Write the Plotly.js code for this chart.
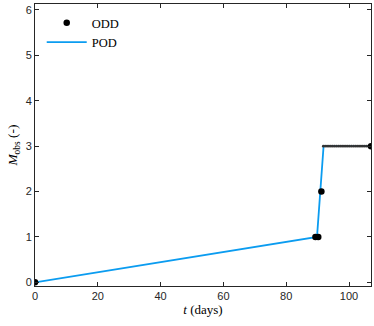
<!DOCTYPE html>
<html>
<head>
<meta charset="utf-8">
<script src="https://cdn.plot.ly/plotly-3.0.1.min.js"></script>
<style>
  html, body { margin: 0; padding: 0; background: #fff; }
  #chart { width: 374px; height: 326px; }
</style>
</head>
<body>
<div id="chart"></div>
<script>
// observed (ODD) points: key jumps
const oddDays = [0, 89.3, 90.2, 91.2, 107];
const oddVals = [0, 1, 1, 2, 3];

// dense ODD samples along the plateau (small markers)
const plateauDays = [91.8, 92.4, 93.0, 93.6, 94.2, 94.8, 95.4, 96.0, 96.6, 97.2, 97.8, 98.4, 99.0, 99.6,
  100.2, 100.8, 101.4, 102.0, 102.6, 103.2, 103.8, 104.4, 105.0, 105.6, 106.2, 106.8];
const plateauVals = [3, 3, 3, 3, 3, 3, 3, 3, 3, 3, 3, 3, 3, 3,
  3, 3, 3, 3, 3, 3, 3, 3, 3, 3, 3, 3];

// POD curve
const podDays = [0, 89.8, 91.9, 107];
const podVals = [0, 1, 3, 3];

const axisColor = '#262626';
const tickFont = { family: 'Liberation Sans, Arial, sans-serif', size: 11, color: axisColor };
const serif = 'Liberation Serif, DejaVu Serif, serif';

const traces = [
  { x: podDays, y: podVals, mode: 'lines', name: 'POD', legendrank: 2,
    line: { color: '#0b9cf0', width: 1.8 } },
  { x: plateauDays, y: plateauVals, mode: 'markers', name: 'ODD plateau', showlegend: false,
    marker: { color: '#333', size: 2.6, symbol: 'circle' } },
  { x: oddDays, y: oddVals, mode: 'markers', name: 'ODD', legendrank: 1,
    marker: { color: '#000', size: 6.5 } }
];

const layout = {
  width: 374, height: 326,
  margin: { l: 35, r: 3, t: 4, b: 40 },
  paper_bgcolor: '#fff', plot_bgcolor: '#fff',
  showlegend: true,
  legend: { x: 0.02, y: 0.985, xanchor: 'left', yanchor: 'top', bgcolor: 'rgba(0,0,0,0)',
    font: { family: serif, size: 12.5, color: '#000' }, tracegroupgap: 0, itemwidth: 40 },
  xaxis: {
    range: [0, 107], tickvals: [0, 20, 40, 60, 80, 100],
    ticks: 'inside', ticklen: 4, tickcolor: axisColor, mirror: 'ticks',
    showline: true, linecolor: axisColor, linewidth: 1, showgrid: false, zeroline: false,
    tickfont: tickFont,
    title: { text: '<i>t</i> (days)', font: { family: serif, size: 13, color: '#000' }, standoff: 2 }
  },
  yaxis: {
    range: [-0.08, 6.13], tickvals: [0, 1, 2, 3, 4, 5, 6],
    ticks: 'inside', ticklen: 4, tickcolor: axisColor, mirror: 'ticks',
    showline: true, linecolor: axisColor, linewidth: 1, showgrid: false, zeroline: false,
    tickfont: tickFont,
    title: { text: '<i>M</i><sub>obs</sub> (-)', font: { family: serif, size: 13.5, color: '#000' }, standoff: 4 }
  }
};

Plotly.newPlot('chart', traces, layout, { staticPlot: true, displayModeBar: false });
</script>
</body>
</html>
